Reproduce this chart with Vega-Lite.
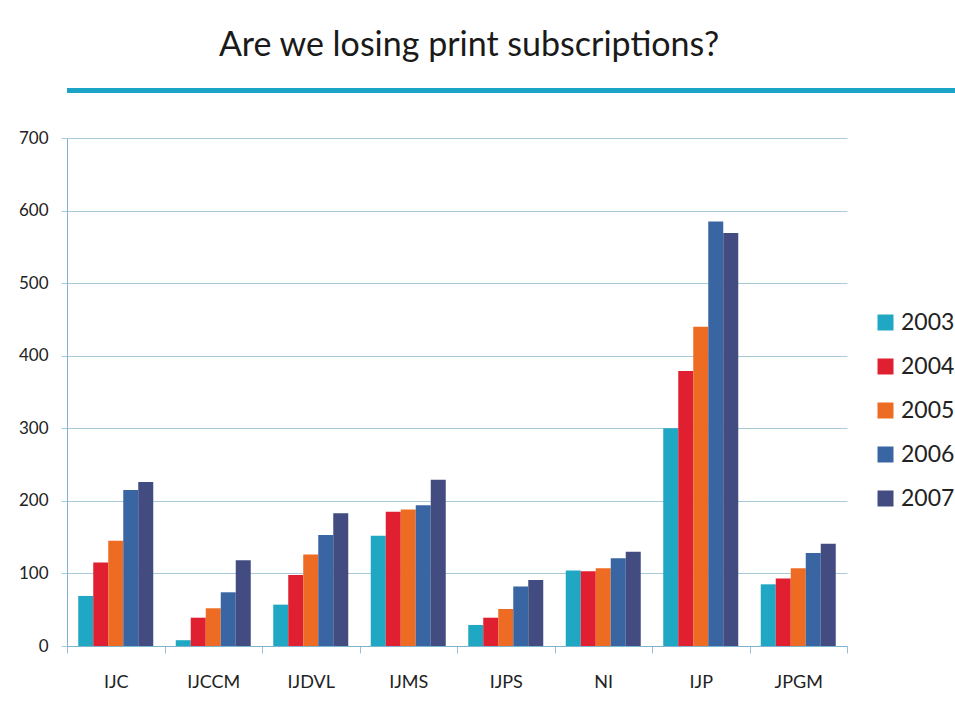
{
  "$schema": "https://vega.github.io/schema/vega-lite/v6.json",
  "background": "white",
  "padding": {"left": 10, "top": 29, "right": 0, "bottom": 0},
  "config": {"font": "Lato", "view": {"stroke": null}},
  "datasets": {
    "subs": [
      {"journal": "IJC", "year": "2003", "subscriptions": 69},
      {"journal": "IJC", "year": "2004", "subscriptions": 115},
      {"journal": "IJC", "year": "2005", "subscriptions": 145},
      {"journal": "IJC", "year": "2006", "subscriptions": 215},
      {"journal": "IJC", "year": "2007", "subscriptions": 226},
      {"journal": "IJCCM", "year": "2003", "subscriptions": 8},
      {"journal": "IJCCM", "year": "2004", "subscriptions": 39},
      {"journal": "IJCCM", "year": "2005", "subscriptions": 52},
      {"journal": "IJCCM", "year": "2006", "subscriptions": 74},
      {"journal": "IJCCM", "year": "2007", "subscriptions": 118},
      {"journal": "IJDVL", "year": "2003", "subscriptions": 57},
      {"journal": "IJDVL", "year": "2004", "subscriptions": 98},
      {"journal": "IJDVL", "year": "2005", "subscriptions": 126},
      {"journal": "IJDVL", "year": "2006", "subscriptions": 153},
      {"journal": "IJDVL", "year": "2007", "subscriptions": 183},
      {"journal": "IJMS", "year": "2003", "subscriptions": 152},
      {"journal": "IJMS", "year": "2004", "subscriptions": 185},
      {"journal": "IJMS", "year": "2005", "subscriptions": 188},
      {"journal": "IJMS", "year": "2006", "subscriptions": 194},
      {"journal": "IJMS", "year": "2007", "subscriptions": 229},
      {"journal": "IJPS", "year": "2003", "subscriptions": 29},
      {"journal": "IJPS", "year": "2004", "subscriptions": 39},
      {"journal": "IJPS", "year": "2005", "subscriptions": 51},
      {"journal": "IJPS", "year": "2006", "subscriptions": 82},
      {"journal": "IJPS", "year": "2007", "subscriptions": 91},
      {"journal": "NI", "year": "2003", "subscriptions": 104},
      {"journal": "NI", "year": "2004", "subscriptions": 103},
      {"journal": "NI", "year": "2005", "subscriptions": 107},
      {"journal": "NI", "year": "2006", "subscriptions": 121},
      {"journal": "NI", "year": "2007", "subscriptions": 130},
      {"journal": "IJP", "year": "2003", "subscriptions": 300},
      {"journal": "IJP", "year": "2004", "subscriptions": 379},
      {"journal": "IJP", "year": "2005", "subscriptions": 440},
      {"journal": "IJP", "year": "2006", "subscriptions": 585},
      {"journal": "IJP", "year": "2007", "subscriptions": 569},
      {"journal": "JPGM", "year": "2003", "subscriptions": 85},
      {"journal": "JPGM", "year": "2004", "subscriptions": 93},
      {"journal": "JPGM", "year": "2005", "subscriptions": 107},
      {"journal": "JPGM", "year": "2006", "subscriptions": 128},
      {"journal": "JPGM", "year": "2007", "subscriptions": 141}
    ]
  },
  "columns": 1,
  "spacing": 36,
  "concat": [
    {
      "title": {"text": "Are we losing print subscriptions?", "fontSize": 34, "fontWeight": "normal", "color": "#1a1a1a", "anchor": "middle", "offset": 25, "dx": -42},
      "width": 888,
      "height": 5,
      "view": {"fill": "#1CA4C6", "stroke": null},
      "data": {"values": []},
      "mark": "text",
      "encoding": {}
    },
    {
      "width": 780,
      "height": 508,
      "data": {"name": "subs"},
      "mark": {"type": "bar"},
      "encoding": {
        "x": {
          "field": "journal", "type": "nominal",
          "sort": ["IJC", "IJCCM", "IJDVL", "IJMS", "IJPS", "NI", "IJP", "JPGM"],
          "scale": {"paddingInner": 0, "paddingOuter": 0},
          "axis": {"title": null, "labelAngle": 0, "tickBand": "extent", "tickSize": 7, "tickColor": "#9BBFD0", "domainColor": "#7DB3CC", "labelPadding": 20, "labelFontSize": 18, "labelColor": "#222222", "grid": false}
        },
        "xOffset": {"field": "year", "type": "nominal", "scale": {"paddingInner": 0, "paddingOuter": 0.75}},
        "y": {
          "field": "subscriptions", "type": "quantitative",
          "scale": {"domain": [0, 700]},
          "axis": {"title": null, "values": [0, 100, 200, 300, 400, 500, 600, 700], "grid": true, "gridColor": "#A8CADB", "domainColor": "#7DB3CC", "tickColor": "#A8CADB", "tickSize": 6, "labelPadding": 13, "labelFontSize": 17, "labelColor": "#222222", "minExtent": 57}
        },
        "color": {
          "field": "year", "type": "nominal",
          "scale": {"domain": ["2003", "2004", "2005", "2006", "2007"], "range": ["#20A7C3", "#E01F30", "#EE6B23", "#3966A3", "#434C80"]},
          "legend": {"title": null, "orient": "none", "legendX": 807, "legendY": 223, "symbolType": "square", "symbolSize": 256, "symbolStrokeWidth": 0, "labelFontSize": 23, "labelColor": "#222222", "rowPadding": 20, "labelOffset": 4}
        }
      }
    }
  ]
}
